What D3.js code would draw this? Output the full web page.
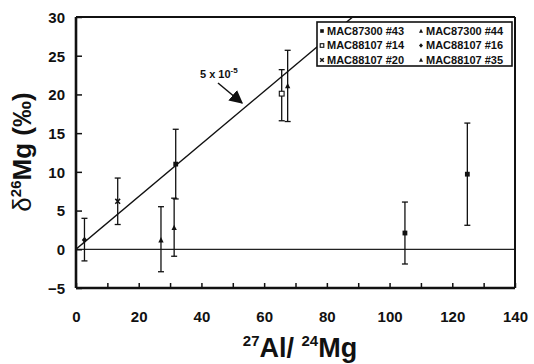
<!DOCTYPE html>
<html>
<head>
<meta charset="utf-8">
<script src="https://cdn.jsdelivr.net/npm/d3@7"></script>
<style>
body { margin: 0; background: #fff; }
text { font-family: "Liberation Sans", Arial, sans-serif; font-weight: bold; fill: #111; }
</style>
</head>
<body>
<svg id="chart"></svg>
<script>
const W = 534;
const H = 364;

// samples, in legend order
const samples = ["MAC87300 #43", "MAC87300 #44", "MAC88107 #14", "MAC88107 #16", "MAC88107 #20", "MAC88107 #35"];
const symbols = ["square", "triangle", "openSquare", "diamond", "cross", "triangle"];

// measured points: sample index, Al/Mg, delta, error low, error high
const pointSample = [3, 4, 5, 1, 0, 2, 1, 0, 0];
const alMg = [2.7, 13.3, 27.1, 31.3, 31.8, 65.6, 67.5, 104.9, 124.8];
const delta = [1.2, 6.2, 1.2, 2.8, 11.0, 20.1, 21.1, 2.1, 9.7];
const errLow = [-1.5, 3.2, -2.9, -0.9, 6.5, 16.6, 16.5, -1.9, 3.1];
const errHigh = [4.0, 9.2, 5.5, 6.6, 15.5, 23.2, 25.7, 6.1, 16.3];

const xTicks = [0, 20, 40, 60, 80, 100, 120, 140];
const yTicks = [-5, 0, 5, 10, 15, 20, 25, 30];
const lineSlope = 0.34; // 5 x 10^-5 isochron

const margin = { top: 17, right: 19, bottom: 76, left: 76 };
const iw = W - margin.left - margin.right;
const ih = H - margin.top - margin.bottom;

const svg = d3.select("#chart").attr("width", W).attr("height", H);
const g = svg.append("g").attr("transform", `translate(${margin.left},${margin.top})`);

const x = d3.scaleLinear().domain([0, 140]).range([0, iw]);
const y = d3.scaleLinear().domain([-5, 30]).range([ih, 0]);

svg.append("defs").append("clipPath").attr("id", "clip")
	.append("rect").attr("width", iw).attr("height", ih);

// zero line
g.append("line")
	.attr("x1", 0).attr("x2", iw)
	.attr("y1", y(0)).attr("y2", y(0))
	.attr("stroke", "#222").attr("stroke-width", 1.3);

// isochron
g.append("line")
	.attr("clip-path", "url(#clip)")
	.attr("x1", x(0)).attr("y1", y(0))
	.attr("x2", x(30 / lineSlope)).attr("y2", y(30))
	.attr("stroke", "#111").attr("stroke-width", 1.4);

// axes (ticks inward)
const xAxis = g.append("g").attr("transform", `translate(0,${ih})`)
	.call(d3.axisBottom(x).tickValues(d3.range(0, 141, 10)).tickSize(-5).tickFormat(d => xTicks.includes(d) ? d : ""));
xAxis.select(".domain").remove();
xAxis.selectAll(".tick line").attr("stroke", "#111").attr("stroke-width", 1.5);
xAxis.selectAll(".tick text").attr("dy", 0).attr("y", 34).style("font-size", "15px");

const yAxis = g.append("g")
	.call(d3.axisLeft(y).tickValues(yTicks).tickSize(-6));
yAxis.select(".domain").remove();
yAxis.selectAll(".tick line").attr("stroke", "#111").attr("stroke-width", 1.5);
yAxis.selectAll(".tick text").attr("dy", "0.36em").attr("x", -11).style("font-size", "15px");

// frame
g.append("line").attr("x1", 0).attr("x2", 0).attr("y1", 0).attr("y2", ih).attr("stroke", "#111").attr("stroke-width", 2.6);
g.append("line").attr("x1", 0).attr("x2", iw).attr("y1", ih).attr("y2", ih).attr("stroke", "#111").attr("stroke-width", 2.6);
g.append("line").attr("x1", 0).attr("x2", iw).attr("y1", 0).attr("y2", 0).attr("stroke", "#111").attr("stroke-width", 2);
g.append("line").attr("x1", iw).attr("x2", iw).attr("y1", 0).attr("y2", ih).attr("stroke", "#111").attr("stroke-width", 2);

// marker drawing
function drawMarker(sel, type, cx, cy, s) {
	if (type === "square") {
		sel.append("rect").attr("x", cx - s).attr("y", cy - s).attr("width", 2 * s).attr("height", 2 * s).attr("fill", "#111");
	} else if (type === "openSquare") {
		sel.append("rect").attr("x", cx - s).attr("y", cy - s).attr("width", 2 * s).attr("height", 2 * s)
			.attr("fill", "#fff").attr("stroke", "#111").attr("stroke-width", 1.1);
	} else if (type === "triangle") {
		sel.append("path").attr("d", `M${cx},${cy - s * 1.2}L${cx + s * 1.1},${cy + s}L${cx - s * 1.1},${cy + s}Z`).attr("fill", "#111");
	} else if (type === "diamond") {
		sel.append("path").attr("d", `M${cx},${cy - s * 1.3}L${cx + s * 1.1},${cy}L${cx},${cy + s * 1.3}L${cx - s * 1.1},${cy}Z`).attr("fill", "#111");
	} else if (type === "cross") {
		sel.append("path").attr("d", `M${cx - s},${cy - s}L${cx + s},${cy + s}M${cx - s},${cy + s}L${cx + s},${cy - s}`)
			.attr("stroke", "#111").attr("stroke-width", 1.5);
	}
}

// error bars and points
const pts = g.append("g");
alMg.forEach((v, i) => {
	const px = x(v);
	pts.append("line").attr("x1", px).attr("x2", px).attr("y1", y(errLow[i])).attr("y2", y(errHigh[i]))
		.attr("stroke", "#111").attr("stroke-width", 1.3);
	[errLow[i], errHigh[i]].forEach(e => {
		pts.append("line").attr("x1", px - 3).attr("x2", px + 3).attr("y1", y(e)).attr("y2", y(e))
			.attr("stroke", "#111").attr("stroke-width", 1.3);
	});
	drawMarker(pts, symbols[pointSample[i]], px, y(delta[i]), 2.4);
});

// annotation
const ann = svg.append("text").attr("x", 200).attr("y", 78).style("font-size", "11px");
ann.append("tspan").text("5 x 10");
ann.append("tspan").attr("dy", -5).style("font-size", "8px").text("-5");
svg.append("defs").append("marker").attr("id", "arrow")
	.attr("viewBox", "0 0 10 10").attr("refX", 9).attr("refY", 5)
	.attr("markerWidth", 9).attr("markerHeight", 9).attr("orient", "auto")
	.append("path").attr("d", "M0,0L10,5L0,10Z").attr("fill", "#111");
svg.append("line").attr("x1", 218).attr("y1", 83).attr("x2", 242).attr("y2", 103)
	.attr("stroke", "#111").attr("stroke-width", 1.5).attr("marker-end", "url(#arrow)");

// legend
const lg = svg.append("g");
lg.append("rect").attr("x", 317).attr("y", 22).attr("width", 195).attr("height", 44)
	.attr("fill", "#fff").attr("stroke", "#111").attr("stroke-width", 1.6);
samples.forEach((s, i) => {
	const col = i % 2, row = Math.floor(i / 2);
	const lx = 322 + col * 99, ly = 31 + row * 14.5;
	drawMarker(lg, symbols[i], lx, ly, 1.8);
	lg.append("text").attr("x", lx + 5).attr("y", ly).attr("dy", "0.36em").style("font-size", "11px").text(s);
});

// axis titles
const xt = svg.append("text").attr("x", 300).attr("y", 357).attr("text-anchor", "middle").style("font-size", "27px");
xt.append("tspan").attr("dy", -11).style("font-size", "15px").text("27");
xt.append("tspan").attr("dy", 11).text("Al/ ");
xt.append("tspan").attr("dy", -11).style("font-size", "15px").text("24");
xt.append("tspan").attr("dy", 11).text("Mg");

const yt = svg.append("text").attr("transform", "translate(31,152) rotate(-90)").attr("text-anchor", "middle").style("font-size", "26px");
yt.append("tspan").style("font-weight", "normal").text("δ");
yt.append("tspan").attr("dy", -10).style("font-size", "15px").text("26");
yt.append("tspan").attr("dy", 10).text("Mg (‰)");
</script>
</body>
</html>
